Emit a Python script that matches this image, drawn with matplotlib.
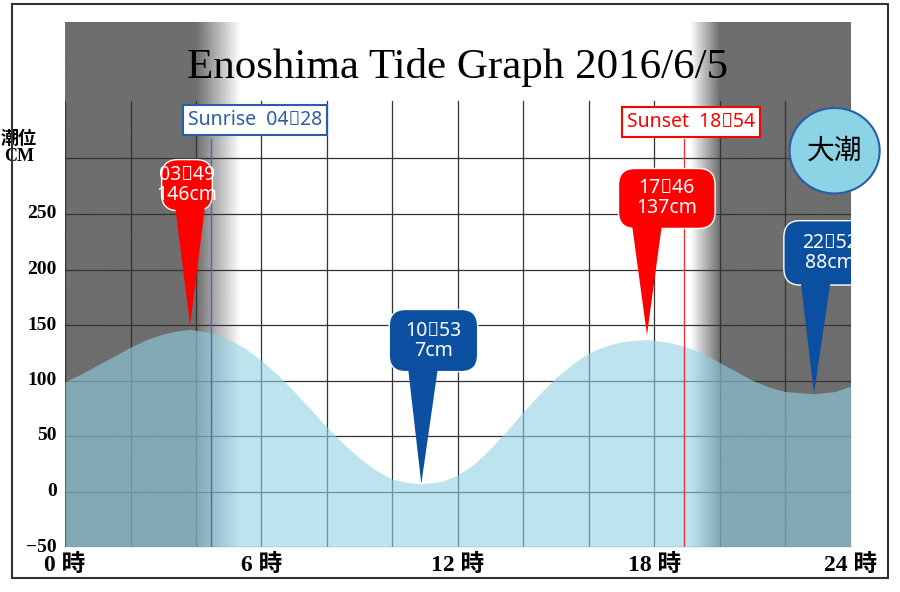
import numpy as np
import matplotlib
matplotlib.use("Agg")
import matplotlib.pyplot as plt
from matplotlib.patches import FancyBboxPatch, Polygon, Rectangle, Ellipse

hours = [0, 0.5, 1, 1.5, 2, 2.5, 3, 3.5, 3.82, 4.5, 5, 5.5, 6, 6.5, 7, 7.5, 8, 8.5, 9, 9.5, 10, 10.5, 10.88,
         11.5, 12, 12.5, 13, 13.5, 14, 14.5, 15, 15.5, 16, 16.5, 17, 17.77, 18.5, 19, 19.5, 20, 20.5, 21, 21.5,
         22, 22.87, 23.5, 24]
tide = [99, 106, 114, 122, 130, 137, 142, 145, 146, 143, 137, 129, 118, 105, 90, 74, 58, 43, 30, 19, 11, 8, 7,
        9, 15, 25, 39, 55, 72, 88, 103, 115, 125, 131, 135, 137, 134, 130, 124, 116, 108, 100, 94,
        90, 88, 90, 95]
extreme_labels = ["03：49\n146cm", "10：53\n7cm", "17：46\n137cm", "22：52\n88cm"]
extreme_hours = [3.82, 10.88, 17.77, 22.87]
extreme_cm = [146, 7, 137, 88]
extreme_kind = ["high", "low", "high", "low"]
sunrise, sunset = 4.47, 18.9
sunrise_label, sunset_label = "Sunrise  04：28", "Sunset  18：54"
title = "Enoshima Tide Graph 2016/6/5"
yticks = [-50, 0, 50, 100, 150, 200, 250]
xticks = [0, 6, 12, 18, 24]

W, H = 900, 592
fig = plt.figure(figsize=(9, 5.92), dpi=100)
fig.patches.append(Rectangle((12/W, 14/H), 876/W, 574/H, transform=fig.transFigure,
                             fill=False, lw=1.5, ec="#333333"))
ax = fig.add_axes([65/W, 45/H, 786/W, 525/H])
ytop = -50 + 525 / 1.11
ax.set_xlim(0, 24); ax.set_ylim(-50, ytop)
for s in ax.spines.values(): s.set_visible(False)
ax.set_xticks([]); ax.set_yticks([])

# night shading
xs = np.linspace(0, 24, 2401)
a = np.zeros_like(xs)
a[xs <= 4.0] = 1
m = (xs > 4.0) & (xs < 5.35); a[m] = 1 - (xs[m] - 4.0) / 1.35
m = (xs > 19.1) & (xs < 20.0); a[m] = (xs[m] - 19.1) / 0.9
a[xs >= 20.0] = 1
img = np.zeros((1, len(xs), 4)); img[..., :3] = 110/255; img[..., 3] = a
ax.imshow(img, extent=(0, 24, -50, ytop), aspect="auto", zorder=0, interpolation="bilinear")

# grid
for h in range(0, 25, 2):
    ax.plot([h, h], [-50, 352], color="#333333", lw=0.9, zorder=1)
for v in range(-50, 301, 50):
    ax.plot([0, 24], [v, v], color="#333333", lw=0.9, zorder=1)

ax.fill_between(hours, tide, -50, color=(145/255, 210/255, 227/255), alpha=0.6, lw=0, zorder=2)

# sunrise / sunset
ax.plot([sunrise, sunrise], [-50, 318], color="#3a6fb5", lw=1, zorder=3)
ax.plot([sunset, sunset], [-50, 318], color="#ee3333", lw=1, zorder=3)
ax.text(3.75, 335, sunrise_label, color="#2a5cab", fontsize=14, fontfamily="Noto Sans",
        fontstretch="condensed", va="center", zorder=5,
        bbox=dict(boxstyle="square,pad=0.25", fc="white", ec="#2a5cab", lw=1.5))
ax.text(17.15, 333, sunset_label, color="red", fontsize=14, fontfamily="Noto Sans",
        va="center", zorder=5, bbox=dict(boxstyle="square,pad=0.25", fc="white", ec="red", lw=1.5))

ax.text(12, 382, title, ha="center", va="center", fontsize=31, fontfamily="Liberation Serif", zorder=5)

# callouts
boxes = [(2.95, 253, 1.55, 46), (9.9, 108, 2.7, 56), (16.9, 237, 2.95, 54), (21.95, 186, 2.8, 58)]
for (bx, by, bw, bh), lab, hx, cm, kind in zip(boxes, extreme_labels, extreme_hours, extreme_cm, extreme_kind):
    col = "red" if kind == "high" else "#0b4fa0"
    tipy = cm + 4 if kind == "high" else cm + 0
    cx = hx + (0.0 if kind == "high" else 0.05)
    ax.add_patch(FancyBboxPatch((bx, by), bw, bh, boxstyle="round,pad=0,rounding_size=0.5",
                                mutation_aspect=30, fc=col, ec="white", lw=1, zorder=6))
    ax.add_patch(Polygon([[cx - 0.45, by + 2], [cx + 0.45, by + 2], [hx, tipy]], closed=True,
                         fc=col, ec="none", zorder=6))
    ax.text(bx + bw/2, by + bh/2, lab, color="white", ha="center", va="center", fontsize=14,
            fontfamily="Noto Sans", linespacing=1.0, zorder=7)

# 大潮 circle
ax.add_patch(Ellipse((23.5, 307), 2.75, 77, fc="#8dd3e6", ec="#2a5cab", lw=1.5, zorder=6, clip_on=False))
ax.text(23.5, 307, "大潮", ha="center", va="center", fontsize=20, fontfamily="Noto Sans CJK JP", zorder=7)

serif = ["Liberation Serif", "Noto Sans CJK JP"]
for v in yticks:
    ax.text(-0.25, v, str(v).replace("-", "−"), ha="right", va="center", fontsize=14,
            fontweight="bold", fontfamily=serif)
ax.text(-1.4, 310, "潮位\nCM", ha="center", va="center", fontsize=13, fontweight="bold",
        fontfamily=serif, linespacing=1.0)
for h in xticks:
    ax.text(h, -66, f"{h} 時", ha="center", va="center", fontsize=17, fontweight="bold", fontfamily=serif)

fig.savefig("out.png", dpi=100)
